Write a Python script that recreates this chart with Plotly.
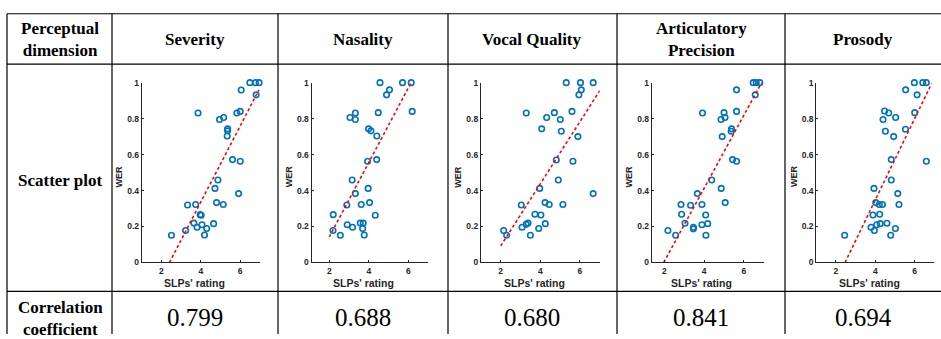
import plotly.graph_objects as go

W, H = 941, 339

dimensions = ["Severity", "Nasality", "Vocal Quality", "Articulatory<br>Precision", "Prosody"]
correlations = ["0.799", "0.688", "0.680", "0.841", "0.694"]

severity_x = [2.51, 3.23, 3.33, 3.74, 3.86, 3.65, 3.81, 3.97, 4.02, 4.06, 4.19, 4.30, 4.65, 4.72, 4.80, 4.87,
              5.14, 4.95, 5.16, 5.36, 5.36, 5.34, 5.61, 6.00, 5.92, 5.83, 6.00, 6.05, 6.49, 6.78, 6.96, 6.81]
severity_wer = [0.151, 0.178, 0.320, 0.322, 0.831, 0.219, 0.196, 0.266, 0.263, 0.210, 0.153, 0.189, 0.216, 0.412,
                0.333, 0.459, 0.322, 0.795, 0.806, 0.743, 0.732, 0.703, 0.572, 0.563, 0.383, 0.831, 0.840, 0.959,
                1.0, 1.0, 1.0, 0.932]
severity_fit_x = [2.41, 6.95]
severity_fit_y = [0.0, 0.96]

nasality_x = [4.57, 5.71, 6.15, 5.05, 4.90, 6.20, 3.32, 4.48, 3.05, 3.32, 3.99, 4.11, 4.41, 3.94, 4.40, 3.16,
              3.97, 3.32, 4.04, 2.89, 3.62, 2.20, 4.33, 3.57, 3.72, 2.91, 3.18, 3.69, 2.19, 2.56, 3.77]
nasality_wer = [1.0, 1.0, 1.0, 0.960, 0.932, 0.840, 0.831, 0.833, 0.806, 0.795, 0.743, 0.732, 0.703, 0.563, 0.572,
                0.459, 0.412, 0.383, 0.333, 0.320, 0.322, 0.266, 0.263, 0.219, 0.219, 0.210, 0.196, 0.189, 0.178,
                0.151, 0.153]
nasality_fit_x = [2.0, 6.12]
nasality_fit_y = [0.142, 0.995]

vocal_x = [5.31, 6.03, 6.67, 6.07, 5.95, 3.29, 4.71, 4.32, 5.01, 5.60, 4.07, 5.06, 5.90, 4.81, 5.65, 4.91,
           3.97, 6.67, 4.24, 4.45, 3.04, 5.14, 3.73, 4.03, 3.29, 3.38, 4.25, 3.08, 3.92, 2.15, 2.30, 3.50]
vocal_wer = [1.0, 1.0, 1.0, 0.960, 0.932, 0.831, 0.833, 0.806, 0.795, 0.840, 0.743, 0.730, 0.700, 0.570, 0.563,
             0.459, 0.412, 0.383, 0.333, 0.322, 0.320, 0.322, 0.268, 0.264, 0.212, 0.219, 0.216, 0.196, 0.189,
             0.178, 0.151, 0.151]
vocal_fit_x = [2.0, 7.0]
vocal_fit_y = [0.092, 0.955]

artic_x = [6.47, 6.62, 6.80, 5.63, 6.57, 3.92, 5.00, 5.63, 5.05, 4.85, 5.38, 5.36, 4.91, 5.43, 5.63, 4.38,
           4.86, 3.66, 5.06, 2.84, 3.32, 3.89, 2.87, 4.08, 3.04, 4.18, 3.89, 3.46, 3.46, 2.18, 2.57, 4.09]
artic_wer = [1.0, 1.0, 1.0, 0.960, 0.932, 0.831, 0.833, 0.840, 0.806, 0.795, 0.743, 0.730, 0.700, 0.572, 0.563,
             0.459, 0.412, 0.383, 0.333, 0.322, 0.318, 0.322, 0.268, 0.264, 0.218, 0.216, 0.210, 0.196, 0.187,
             0.178, 0.151, 0.151]
artic_fit_x = [1.97, 6.89]
artic_fit_y = [0.0, 1.0]

prosody_x = [5.98, 6.41, 6.59, 5.54, 6.12, 4.47, 4.68, 6.00, 4.39, 5.03, 4.51, 5.53, 4.93, 4.81, 6.59, 4.81,
             3.93, 5.14, 4.02, 4.20, 4.36, 5.20, 3.88, 4.22, 4.59, 4.25, 4.07, 3.78, 5.02, 3.95, 2.44, 4.78]
prosody_wer = [1.0, 1.0, 1.0, 0.960, 0.932, 0.842, 0.831, 0.833, 0.795, 0.806, 0.730, 0.741, 0.700, 0.572, 0.563,
               0.459, 0.412, 0.383, 0.333, 0.322, 0.322, 0.322, 0.264, 0.268, 0.218, 0.216, 0.210, 0.196, 0.189,
               0.178, 0.151, 0.151]
prosody_fit_x = [2.46, 6.86]
prosody_fit_y = [0.0, 0.995]

x_ticks = [2, 4, 6]
y_ticks = [0, 0.2, 0.4, 0.6, 0.8, 1]
y_ticklabels = ["0", "0.2", "0.4", "0.6", "0.8", "1"]

series = [
    (severity_x, severity_wer, severity_fit_x, severity_fit_y),
    (nasality_x, nasality_wer, nasality_fit_x, nasality_fit_y),
    (vocal_x, vocal_wer, vocal_fit_x, vocal_fit_y),
    (artic_x, artic_wer, artic_fit_x, artic_fit_y),
    (prosody_x, prosody_wer, prosody_fit_x, prosody_fit_y),
]

# layout (pixels of the 941x339 page)
plot_px = [(141.7, 259.9), (311.5, 428.0), (480.9, 599.7), (651.8, 763.8), (816.3, 934.4)]
x_ranges = [[1, 7], [1.1, 7], [1, 7], [1.37, 7], [1, 7]]
plot_top, plot_bottom = 80.0, 265.3
col_edges = [7, 112, 278, 448, 617, 785]
col_centers = [60, 195, 363, 532, 701, 863]
row_lines = [9, 61, 295]


def px(x):
    return x / W


def py(y):
    return 1 - y / H


fig = go.Figure()
blue = "#0072BD"
axis_color = "#262626"
tick_font = dict(family="Liberation Sans, Arial", size=8.5, color=axis_color, weight="bold")

for i, (sx, sy, fx, fy) in enumerate(series):
    n = "" if i == 0 else str(i + 1)
    fig.add_trace(go.Scatter(x=sx, y=sy, mode="markers", xaxis="x" + n, yaxis="y" + n,
                             marker=dict(symbol="circle-open", size=5.5, color=blue, line=dict(width=1.6, color=blue)),
                             cliponaxis=False, showlegend=False, hoverinfo="skip"))
    fig.add_trace(go.Scatter(x=fx, y=fy, mode="lines", xaxis="x" + n, yaxis="y" + n,
                             line=dict(color="#FF0000", width=1.6, dash="3px,2.5px"),
                             cliponaxis=False, showlegend=False, hoverinfo="skip"))
    l, r = plot_px[i]
    fig.update_layout(**{
        "xaxis" + n: dict(domain=[px(l), px(r)], range=x_ranges[i], anchor="y" + n,
                          tickvals=x_ticks, ticks="inside", ticklen=2, tickcolor=axis_color,
                          showline=True, linecolor=axis_color, linewidth=1, showgrid=False, zeroline=False,
                          tickfont=tick_font, fixedrange=True),
        "yaxis" + n: dict(domain=[py(plot_bottom), py(plot_top)], range=[0, 1], anchor="x" + n,
                          tickvals=y_ticks, ticktext=y_ticklabels, ticks="inside", ticklen=2,
                          tickcolor=axis_color, showline=True, linecolor=axis_color, linewidth=1,
                          showgrid=False, zeroline=False, tickfont=tick_font, fixedrange=True),
    })

shapes = []
for y in row_lines:
    shapes.append(dict(type="line", xref="paper", yref="paper", x0=px(col_edges[0]), x1=1.0,
                       y0=py(y), y1=py(y), line=dict(color="black", width=1.2)))
for x in col_edges:
    shapes.append(dict(type="line", xref="paper", yref="paper", x0=px(x), x1=px(x),
                       y0=py(row_lines[0]), y1=0, line=dict(color="black", width=1.2)))

annotations = []


def note(text, x, y, font, **kw):
    annotations.append(dict(text=text, x=px(x), y=py(y), xref="paper", yref="paper", showarrow=False,
                            xanchor="center", yanchor="middle", align="center", font=font, **kw))


serif_bold = dict(family="Liberation Serif, Times New Roman", size=17, color="black", weight="bold")
note("Perceptual<br>dimension", col_centers[0], 36, serif_bold)
for i, d in enumerate(dimensions):
    note(d, col_centers[i + 1], 36, serif_bold)
note("Scatter plot", col_centers[0], 181, serif_bold)
note("Correlation<br>coefficient", col_centers[0], 323, serif_bold)
for i, c in enumerate(correlations):
    note(c, col_centers[i + 1], 322, dict(family="Liberation Serif, Times New Roman", size=25, color="black"))
label_font = dict(family="Liberation Sans, Arial", size=10.5, color=axis_color, weight="bold")
for i in range(5):
    l, r = plot_px[i]
    note("SLPs' rating", (l + r) / 2 - 6, 286, label_font)
    note("WER", l - 23, 177, dict(label_font, size=9), textangle=-90)

fig.update_layout(autosize=True, margin=dict(l=0, r=0, t=0, b=0),
                  paper_bgcolor="white", plot_bgcolor="white",
                  shapes=shapes, annotations=annotations)

post = ("document.documentElement.style.margin='0';document.documentElement.style.overflow='hidden';"
        "document.body.style.margin='0';document.body.style.overflow='hidden';"
        "var g=document.getElementById('{plot_id}');g.style.position='fixed';g.style.top='0px';"
        "g.style.left='0px';g.style.width='100vw';g.style.height='100vh';Plotly.Plots.resize(g);")
fig.write_html("out.html", config={"displayModeBar": False, "responsive": True},
               default_width="100vw", default_height="100vh", post_script=post)
